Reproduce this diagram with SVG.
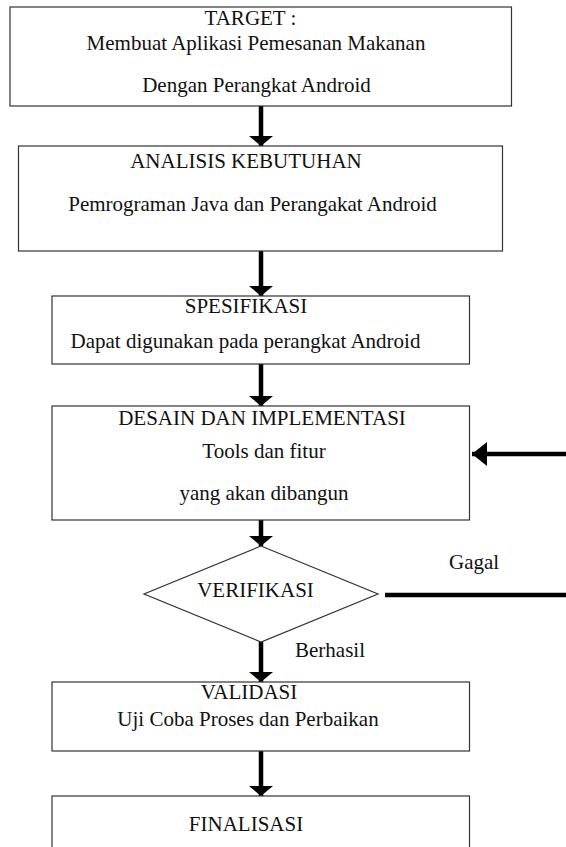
<svg xmlns="http://www.w3.org/2000/svg" width="566" height="847" viewBox="0 0 566 847">
<defs>
<marker id="ah" markerWidth="10" markerHeight="24" refX="10" refY="12" orient="auto" markerUnits="userSpaceOnUse">
<path d="M0,0 L10,12 L0,24 Z" fill="#000"/>
</marker>
<marker id="ahl" markerWidth="15" markerHeight="24" refX="15" refY="12" orient="auto" markerUnits="userSpaceOnUse">
<path d="M0,0 L15,12 L0,24 Z" fill="#000"/>
</marker>
<style>
.box{fill:#fff;stroke:#333;stroke-width:1.2}
.t{font-family:"Liberation Serif","Times New Roman",serif;font-size:21px;fill:#111}
.c{text-anchor:middle}
.ln{stroke:#000;stroke-width:4.5;fill:none}
</style>
</defs>
<rect width="566" height="847" fill="#fff"/>
<g id="connectors">
<line class="ln" x1="261" y1="106" x2="261" y2="146" marker-end="url(#ah)"/>
<line class="ln" x1="261" y1="251" x2="261" y2="296" marker-end="url(#ah)"/>
<line class="ln" x1="261" y1="364" x2="261" y2="406" marker-end="url(#ah)"/>
<line class="ln" x1="261" y1="520" x2="261" y2="546" marker-end="url(#ah)"/>
<line class="ln" x1="261" y1="642" x2="261" y2="682" marker-end="url(#ah)"/>
<line class="ln" x1="261" y1="751" x2="261" y2="796" marker-end="url(#ah)"/>
<line class="ln" x1="566" y1="454" x2="472" y2="454" marker-end="url(#ahl)"/>
<line class="ln" x1="385" y1="595" x2="566" y2="595"/>
<text class="t" x="449" y="569">Gagal</text>
<text class="t" x="295" y="657">Berhasil</text>
</g>
<g id="target">
<rect class="box" x="10" y="7" width="501.5" height="99"/>
<text class="t c" x="250.5" y="25">TARGET :</text>
<text class="t c" x="256" y="50">Membuat Aplikasi Pemesanan Makanan</text>
<text class="t c" x="256.5" y="92">Dengan Perangkat Android</text>
</g>
<g id="analisis">
<rect class="box" x="18.5" y="146" width="484" height="105"/>
<text class="t c" x="246" y="168">ANALISIS KEBUTUHAN</text>
<text class="t c" x="252.5" y="211">Pemrograman Java dan Perangakat Android</text>
</g>
<g id="spesifikasi">
<rect class="box" x="52" y="296" width="417.5" height="68"/>
<text class="t c" x="246" y="313">SPESIFIKASI</text>
<text class="t c" x="245.5" y="348">Dapat digunakan pada perangkat Android</text>
</g>
<g id="desain">
<rect class="box" x="52" y="406" width="417.5" height="114"/>
<text class="t c" x="262" y="425">DESAIN DAN IMPLEMENTASI</text>
<text class="t c" x="264" y="458">Tools dan fitur</text>
<text class="t c" x="264" y="500">yang akan dibangun</text>
</g>
<g id="verifikasi">
<polygon class="box" points="261,546 378,594 261,642 144,594"/>
<text class="t c" x="255.5" y="597">VERIFIKASI</text>
</g>
<g id="validasi">
<rect class="box" x="52" y="682" width="417.5" height="69"/>
<text class="t c" x="249" y="699">VALIDASI</text>
<text class="t c" x="248" y="726">Uji Coba Proses dan Perbaikan</text>
</g>
<g id="finalisasi">
<rect class="box" x="52" y="796" width="417.5" height="70"/>
<text class="t c" x="246" y="831">FINALISASI</text>
</g>
</svg>
